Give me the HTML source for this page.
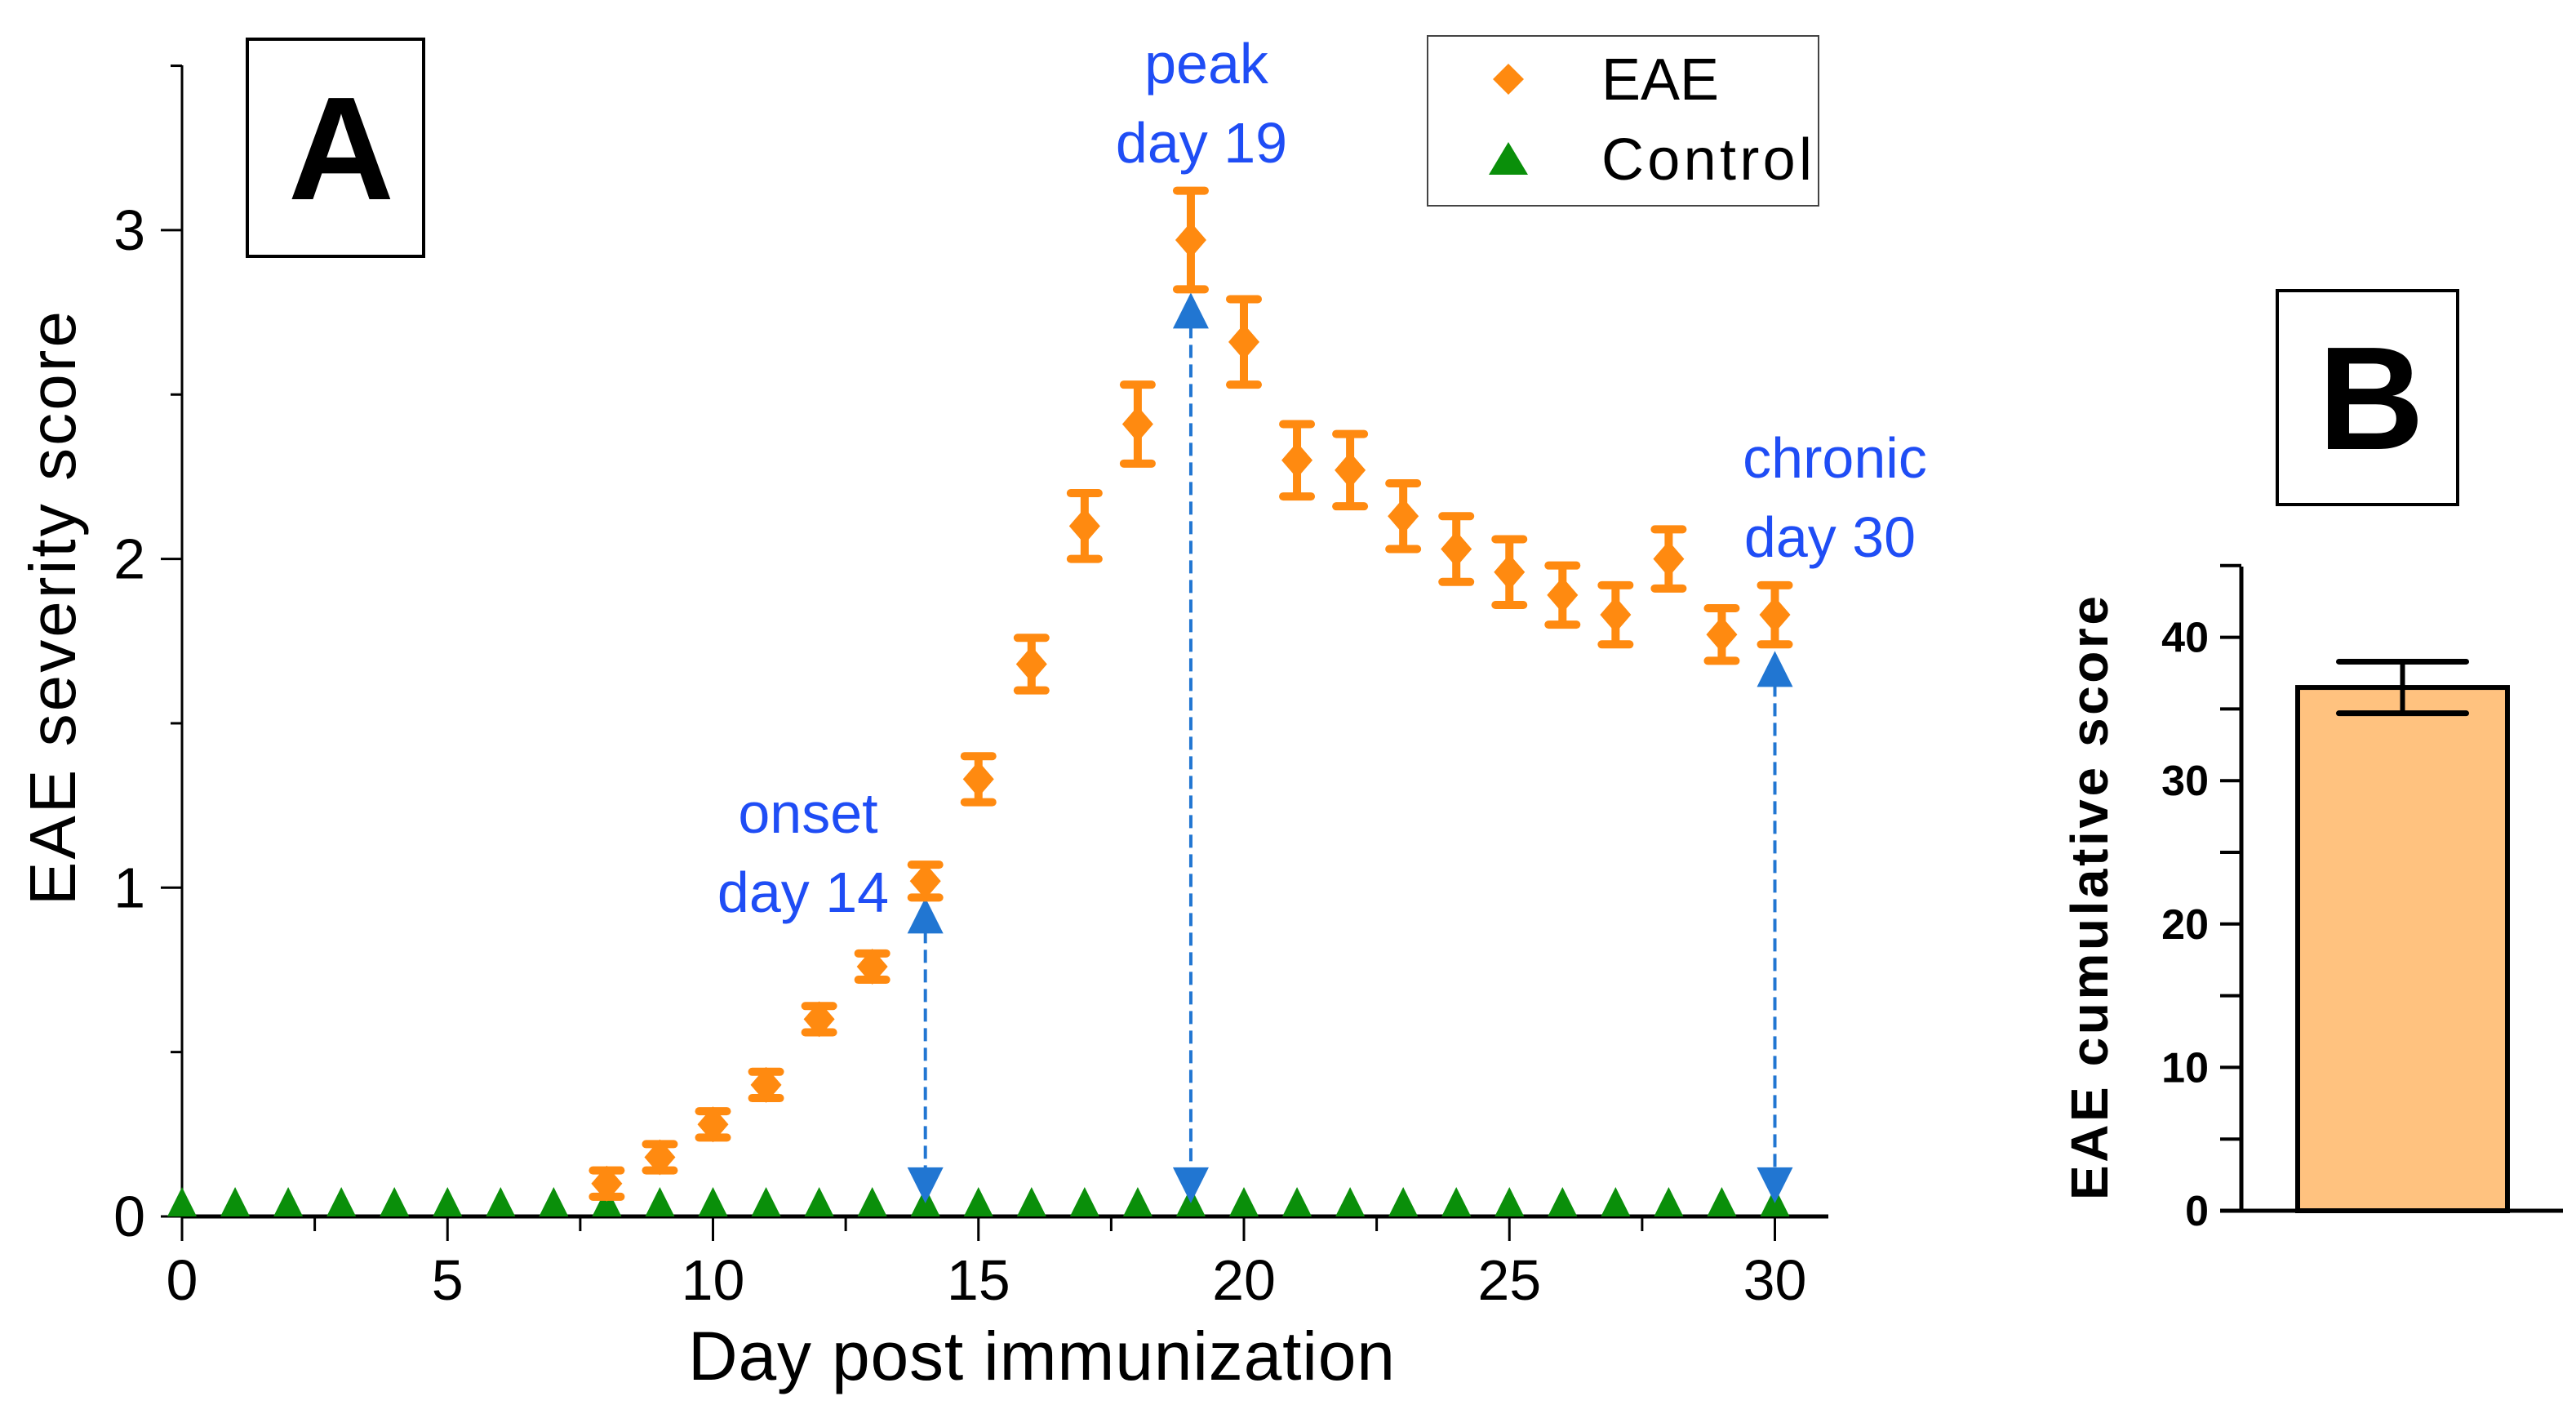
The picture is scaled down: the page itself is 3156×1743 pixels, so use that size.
<!DOCTYPE html>
<html><head><meta charset="utf-8"><style>
html,body{margin:0;padding:0;background:#fff}
svg{display:block;font-family:"Liberation Sans",Arial,sans-serif}
</style></head><body>
<svg id="chart" width="3156" height="1743" viewBox="0 0 3156 1743" xmlns="http://www.w3.org/2000/svg">
<g id="panelA"></g>
<g id="panelB"></g>
</svg>
<script>
// ---- Panel A data ----
const eaeDays = [8,9,10,11,12,13,14,15,16,17,18,19,20,21,22,23,24,25,26,27,28,29,30];
const eaeMeans = [0.1,0.18,0.28,0.4,0.6,0.76,1.02,1.33,1.68,2.1,2.41,2.97,2.66,2.3,2.27,2.13,2.03,1.96,1.89,1.83,2.0,1.77,1.83];
const eaeErrors = [0.04,0.04,0.04,0.04,0.04,0.04,0.05,0.07,0.08,0.1,0.12,0.15,0.13,0.11,0.11,0.1,0.1,0.1,0.09,0.09,0.09,0.08,0.09];
const controlDays = [0,1,2,3,4,5,6,7,8,9,10,11,12,13,14,15,16,17,18,19,20,21,22,23,24,25,26,27,28,29,30];
const controlMeans = [0,0,0,0,0,0,0,0,0,0,0,0,0,0,0,0,0,0,0,0,0,0,0,0,0,0,0,0,0,0,0];
const xTickLabels = [0,5,10,15,20,25,30];
const yTickLabels = [0,1,2,3];
const arrowDays = [14,19,30];
const arrowTops = [0.93,2.77,1.68];
const arrowLabels1 = ["onset","peak","chronic"];
const arrowLabels2 = ["day 14","day 19","day 30"];
// ---- Panel B data ----
const barCategories = ["EAE"];
const barValues = [36.5];
const barErrors = [1.8];
const bTickLabels = [0,10,20,30,40];

const NS = "http://www.w3.org/2000/svg";
function mk(parent, tag, attrs, text){
  const e = document.createElementNS(NS, tag);
  for (const k in attrs) e.setAttribute(k, attrs[k]);
  if (text !== undefined) e.textContent = text;
  parent.appendChild(e);
  return e;
}
const A = document.getElementById('panelA');
const B = document.getElementById('panelB');
const xA = d => 223 + d * 65.05;
const yA = v => 1490 - v * 402.7;

let e;
e = mk(A,'line',{x1:223,y1:80,x2:223,y2:1490,stroke:'#000','stroke-width':3});
 
e = mk(A,'line',{x1:223,y1:1490,x2:2240,y2:1490,stroke:'#000','stroke-width':5});
 
for (let d=0; d<=30; d+=2.5){
  e = mk(A,'line',{x1:xA(d),y1:1490,x2:xA(d),y2:1490+(d%5===0?30:18),stroke:'#000','stroke-width':3});
   
}
xTickLabels.forEach(t=>{
  e = mk(A,'text',{x:xA(t),y:1592,'font-size':70,'text-anchor':'middle'},String(t));
   
});
for (let v=0; v<=3.5; v+=0.5){
  e = mk(A,'line',{x1:223,y1:yA(v),x2:223-(v%1===0?26:14),y2:yA(v),stroke:'#000','stroke-width':3});
   
}
yTickLabels.forEach(t=>{
  e = mk(A,'text',{x:178,y:yA(t)+24,'font-size':70,'text-anchor':'end'},String(t));
   
});
e = mk(A,'text',{x:0,y:0,'font-size':80,'text-anchor':'middle',transform:'translate(92,745) rotate(-90)',textLength:728},'EAE severity score');
 
e = mk(A,'text',{x:1276,y:1690,'font-size':84,'text-anchor':'middle',textLength:866},'Day post immunization');
 

e = mk(A,'rect',{x:303,y:48,width:216,height:266,fill:'#fff',stroke:'#000','stroke-width':4});
 
e = mk(A,'text',{x:418,y:244,'font-size':180,'font-weight':'bold','text-anchor':'middle'},'A');
 

controlDays.forEach((d,i)=>{
  const cx=xA(d), cy=yA(controlMeans[i]);
  e = mk(A,'polygon',{points:`${cx-18},${cy} ${cx+18},${cy} ${cx},${cy-36}`,fill:'#0a8f0a'});
   
});

const blue = '#2176d2';
arrowDays.forEach((d,i)=>{
  const x=xA(d), yb=yA(0.04), yt=yA(arrowTops[i]+0.04);
  e = mk(A,'line',{x1:x,y1:yt+40,x2:x,y2:yb-40,stroke:blue,'stroke-width':4,'stroke-dasharray':'16,8'});
   
  e = mk(A,'polygon',{points:`${x-22},${yt+44} ${x+22},${yt+44} ${x},${yt}`,fill:blue});
   
  e = mk(A,'polygon',{points:`${x-22},${yb-44} ${x+22},${yb-44} ${x},${yb}`,fill:blue});
   
});
const lblPos = [[990,1020],[1478,102],[2248,585]];
arrowLabels1.forEach((t,i)=>{
  const [cx,cy]=lblPos[i];
  e = mk(A,'text',{x:cx,y:cy,'font-size':70,fill:'#1f4df5','text-anchor':'middle'},t);
   
  e = mk(A,'text',{x:cx-6,y:cy+97,'font-size':70,fill:'#1f4df5','text-anchor':'middle'},arrowLabels2[i]);
   
});

const orange = '#ff8a10';
eaeDays.forEach((d,i)=>{
  const cx=xA(d), cy=yA(eaeMeans[i]), yt=yA(eaeMeans[i]+eaeErrors[i]), yb=yA(eaeMeans[i]-eaeErrors[i]);
  e = mk(A,'line',{x1:cx,y1:yt,x2:cx,y2:yb,stroke:orange,'stroke-width':10});
   
  e = mk(A,'line',{x1:cx-17,y1:yt,x2:cx+17,y2:yt,stroke:orange,'stroke-width':10,'stroke-linecap':'round'});
   
  e = mk(A,'line',{x1:cx-17,y1:yb,x2:cx+17,y2:yb,stroke:orange,'stroke-width':10,'stroke-linecap':'round'});
   
  e = mk(A,'polygon',{points:`${cx},${cy-22} ${cx+19},${cy} ${cx},${cy+22} ${cx-19},${cy}`,fill:orange});
   
});

const lg = mk(A,'g',{});
 
e = mk(lg,'rect',{x:1749,y:44,width:479,height:208,fill:'#fff',stroke:'#444','stroke-width':2});
 
e = mk(lg,'polygon',{points:'1848,78 1867,97 1848,116 1829,97',fill:orange});
 
e = mk(lg,'text',{x:1962,y:122,'font-size':72},'EAE');
 
e = mk(lg,'polygon',{points:'1824,214 1872,214 1848,174',fill:'#0a8f0a'});
 
e = mk(lg,'text',{x:1962,y:220,'font-size':72,textLength:258},'Control');
 

const yB = v => 1483 - v * 17.56;
e = mk(B,'rect',{x:2790,y:356,width:221,height:262,fill:'#fff',stroke:'#000','stroke-width':4});
 
e = mk(B,'text',{x:2905,y:550,'font-size':180,'font-weight':'bold','text-anchor':'middle'},'B');
 
e = mk(B,'line',{x1:2746,y1:694,x2:2746,y2:1485,stroke:'#000','stroke-width':5});
 
e = mk(B,'line',{x1:2720,y1:1483,x2:3140,y2:1483,stroke:'#000','stroke-width':5});
 
for (let v=0; v<=45; v+=5){
  e = mk(B,'line',{x1:2746,y1:yB(v),x2:2720,y2:yB(v),stroke:'#000','stroke-width':4});
   
}
bTickLabels.forEach(t=>{
  e = mk(B,'text',{x:2706,y:yB(t)+18,'font-size':52,'font-weight':'bold','text-anchor':'end'},String(t));
   
});
e = mk(B,'text',{x:0,y:0,'font-size':64,'font-weight':'bold','text-anchor':'middle',transform:'translate(2582,1100) rotate(-90)',textLength:740},'EAE cumulative score');
 
barCategories.forEach((c,i)=>{
  const x0=2815, w=257, cx=x0+w/2;
  e = mk(B,'rect',{x:x0,y:yB(barValues[i]),width:w,height:yB(0)-yB(barValues[i]),fill:'#ffc27f',stroke:'#000','stroke-width':6});
   
  const yt=yB(barValues[i]+barErrors[i]), yb=yB(barValues[i]-barErrors[i]);
  e = mk(B,'line',{x1:cx,y1:yt,x2:cx,y2:yb,stroke:'#000','stroke-width':6});
   
  e = mk(B,'line',{x1:cx-78,y1:yt,x2:cx+78,y2:yt,stroke:'#000','stroke-width':7,'stroke-linecap':'round'});
   
  e = mk(B,'line',{x1:cx-78,y1:yb,x2:cx+78,y2:yb,stroke:'#000','stroke-width':7,'stroke-linecap':'round'});
   
});
</script>
</body></html>
